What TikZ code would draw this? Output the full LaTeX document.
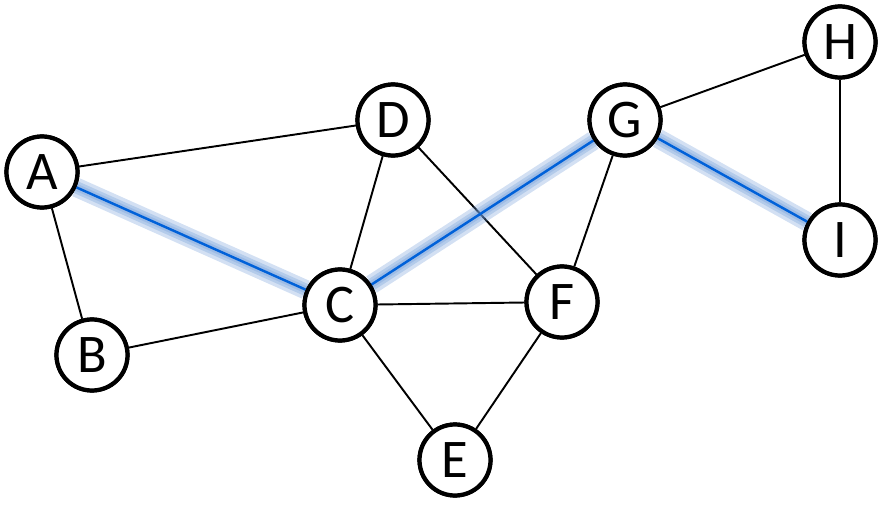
\documentclass[tikz,border=0pt]{standalone}
\usepackage{fontspec}
\setmainfont{Carlito}
\tikzset{
  vertex/.style = {circle, draw, line width=2.4pt, fill=white,
                   minimum size=1.42cm, inner sep=0pt,
                   font=\fontsize{31}{31}\selectfont},
  edge/.style = {line width=1.1pt},
  glow/.style = {line width=#1, cyan!50!blue!60, opacity=0.3},
  glow/.default = 11pt,
  path/.style = {line width=1.4pt, blue!55!cyan!85!black}
}
\begin{document}
\begin{tikzpicture}[x=0.02cm,y=-0.02cm]
	\useasboundingbox (0,0) rectangle (882,527);
	
	% Vertices
	\node[vertex] (A) at (42,172)  {A};
	\node[vertex] (B) at (92,355)  {B};
	\node[vertex] (C) at (340,305) {C};
	\node[vertex] (D) at (393,120) {D};
	\node[vertex] (E) at (455,460) {E};
	\node[vertex] (F) at (562,302) {F};
	\node[vertex] (G) at (625,120) {G};
	\node[vertex] (H) at (840,42)  {H};
	\node[vertex] (I) at (840,240) {I};
	
	% Edges
	\foreach \u/\v in {A/D, A/B, B/C, C/D, C/F, C/E, D/F, G/F, E/F, G/H, H/I}
		\draw[edge] (\u) -- (\v);
	
	% Highlighted path
	\foreach \u/\v in {A/C, C/G, G/I} {
		\draw[glow] (\u) -- (\v);
		\draw[glow=7pt] (\u) -- (\v);
		\draw[glow=4pt] (\u) -- (\v);
		\draw[path] (\u) -- (\v);
	}
	
	% Redraw vertices on top
	\foreach \n/\x/\y in {A/42/172, B/92/355, C/340/305, D/393/120, E/455/460,
	                      F/562/302, G/625/120, H/840/42, I/840/240}
		\node[vertex] at (\x,\y) {\n};
\end{tikzpicture}
\end{document}
